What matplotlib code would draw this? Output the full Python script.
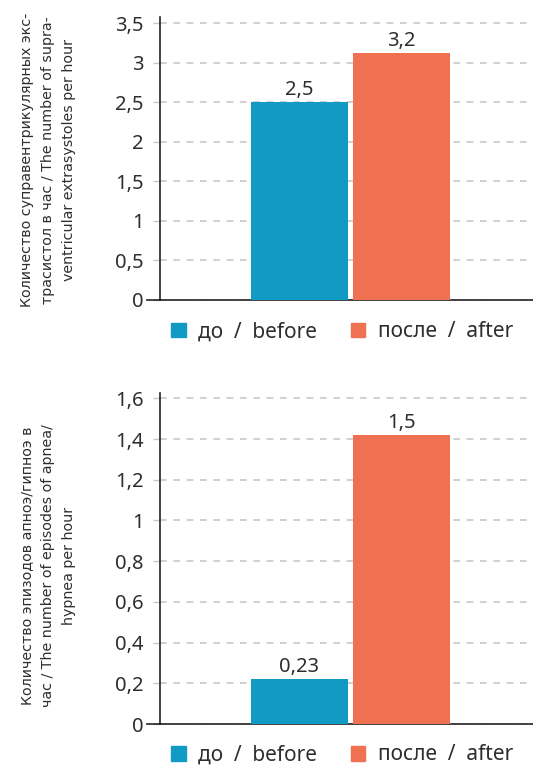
import matplotlib
matplotlib.use("Agg")
import matplotlib.pyplot as plt
from matplotlib.patches import Patch

# данные
groups = ["до  /  before", "после  /  after"]
colors = ["#119bc4", "#f07052"]

top_values = [2.5, 3.12]
top_labels = ["2,5", "3,2"]
top_ticks = [0, 0.5, 1, 1.5, 2, 2.5, 3, 3.5]
top_ylabel = ("Количество суправентрикулярных экс-\n"
              "трасистол в час / The number of supra-\n"
              "ventricular extrasystoles per hour")

bot_values = [0.22, 1.42]
bot_labels = ["0,23", "1,5"]
bot_ticks = [0, 0.2, 0.4, 0.6, 0.8, 1, 1.2, 1.4, 1.6]
bot_ylabel = ("Количество эпизодов апноэ/гипноэ в\n"
              "час / The number of episodes of apnea/\n"
              "hypnea per hour")

txt = "#2e2e2e"
plt.rcParams["font.family"] = ["Noto Sans", "DejaVu Sans"]

W, H = 533, 766
fig = plt.figure(figsize=(W / 100, H / 100), dpi=100)

ax1 = fig.add_axes([160 / W, 1 - 300 / H, 1 - 160 / W, (300 - 17) / H])
ax2 = fig.add_axes([160 / W, 1 - 724 / H, 1 - 160 / W, (724 - 393) / H])


def draw(ax, values, labels, ticks, ylim, ylabel, label_y):
    offs = [-0.2735, 0.2735]
    bars = ax.bar(offs, values, width=0.52, color=colors, zorder=3)
    for b, lab in zip(bars, labels):
        ax.annotate(lab, (b.get_x() + b.get_width() / 2, b.get_height()),
                    xytext=(0, 5), textcoords="offset points",
                    ha="center", va="baseline", fontsize=14.5, color=txt)
    ax.set_xlim(-1.02, 0.98)
    ax.set_ylim(*ylim)
    ax.set_yticks(ticks)
    ax.set_yticklabels([f"{t:g}".replace(".", ",") for t in ticks])
    ax.set_xticks([])
    ax.tick_params(axis="y", length=5, width=1, color="#c8c8c8",
                   pad=7, labelsize=14.5, labelcolor=txt)
    ax.grid(axis="y", color="#c8c8c8", linestyle=(0, (4, 4)), linewidth=1.2, zorder=0)
    for s in ["top", "right"]:
        ax.spines[s].set_visible(False)
    ax.spines["left"].set_color("#222222")
    ax.spines["bottom"].set_color("#222222")
    ax.spines["left"].set_linewidth(1.2)
    ax.spines["bottom"].set_linewidth(1.2)
    ax.axhline(0, xmin=-0.035, xmax=0, color="#222222", lw=1.2, clip_on=False)
    fig.text(48 / W, 1 - label_y / H, ylabel, rotation=90, ha="center", va="center",
             multialignment="center", fontsize=10.3, color=txt, linespacing=1.65,
             family=["Liberation Sans Narrow", "DejaVu Sans"])


draw(ax1, top_values, top_labels, top_ticks, (0, 3.576), top_ylabel, 160)
draw(ax2, bot_values, bot_labels, bot_ticks, (0, 1.626), bot_ylabel, 566)

handles = [Patch(color=c) for c in colors]
for y in [332, 755]:
    fig.legend(handles, groups, ncol=2,
               loc="center", bbox_to_anchor=(342 / W, 1 - y / H), frameon=False,
               fontsize=15, labelcolor=txt, handlelength=0.7, handleheight=0.7,
               handletextpad=0.6, columnspacing=1.6)

fig.savefig("out.png", dpi=100)
